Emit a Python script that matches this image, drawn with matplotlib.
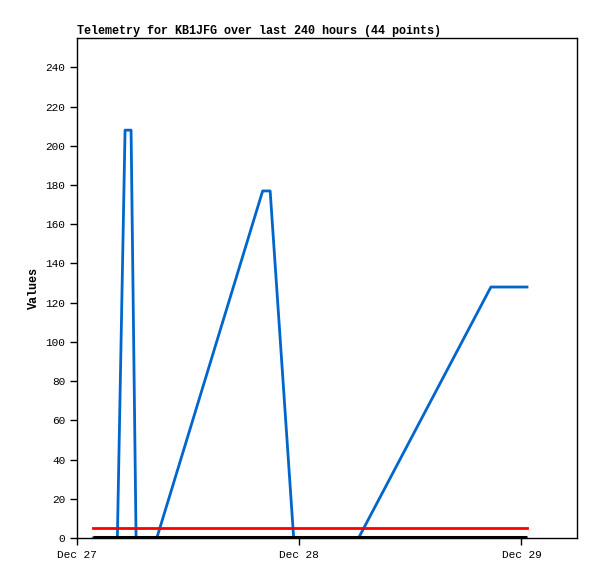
import matplotlib
matplotlib.use("Agg")
import matplotlib.pyplot as plt
import matplotlib.dates as mdates
import matplotlib.transforms as mtransforms
from datetime import datetime, timedelta

start = datetime(2023, 12, 27)
# hours after Dec 27 00:00 and telemetry values
blue_hours = [1.76, 4.36, 5.19, 5.84, 6.38, 8.62, 20.05, 20.86, 23.4, 30.41, 44.7, 48.6]
blue_vals = [0, 0, 208, 208, 0, 0, 177, 177, 0, 0, 128, 128]
red_hours = [1.76, 48.6]
red_vals = [5, 5]
black_hours = [1.76, 48.6]
black_vals = [0, 0]

def to_dates(hours):
    return [start + timedelta(hours=h) for h in hours]

plt.rcParams['font.family'] = ['Liberation Mono', 'DejaVu Sans Mono']
fig = plt.figure(figsize=(5.97, 5.79), dpi=100)
ax = fig.add_axes([77/597, 41/579, 500/597, 500/579])

ax.plot(to_dates(blue_hours), blue_vals, color="#0066cc", linewidth=2)
ax.plot(to_dates(red_hours), red_vals, color="#ff0000", linewidth=2)
# baseline drawn a pixel up so it covers the blue zero stretches
up = mtransforms.offset_copy(ax.transData, fig=fig, x=0, y=0.8, units="dots")
ax.plot(to_dates(black_hours), black_vals, color="black", linewidth=2.2,
        clip_on=False, solid_capstyle="butt", zorder=3, transform=up)

ax.set_xlim(start, start + timedelta(hours=54))
ax.set_ylim(0, 255)
ax.set_yticks(range(0, 241, 20))
ax.xaxis.set_major_locator(mdates.DayLocator())
ax.xaxis.set_major_formatter(mdates.DateFormatter('%b %d'))
ax.tick_params(labelsize=8, length=5, width=1, direction="out")
for s in ax.spines.values():
    s.set_linewidth(1)

ax.set_ylabel("Values", fontsize=8.5, fontweight="bold")
ax.set_title("Telemetry for KB1JFG over last 240 hours (44 points)", fontsize=8.5,
             fontweight="bold", loc="left", pad=3)

plt.savefig("out.png", dpi=100)
